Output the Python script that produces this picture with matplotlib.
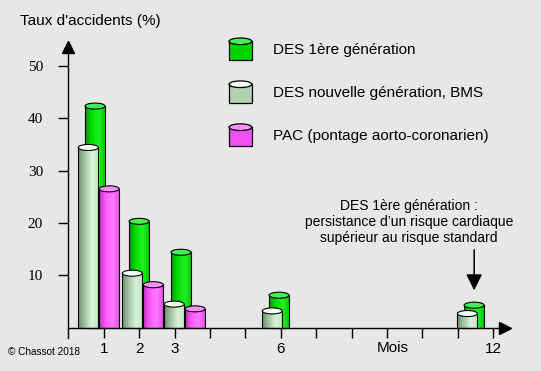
import numpy as np
import matplotlib
matplotlib.use("Agg")
import matplotlib.pyplot as plt
from matplotlib.patches import Rectangle, Ellipse, Patch
from matplotlib.colors import LinearSegmentedColormap
from matplotlib.legend_handler import HandlerBase

# ---------------- data ----------------
months = [1, 2, 3, 6, 12]
des1 = [42.3, 20.3, 14.4, 6.2, 4.3]          # DES 1ère génération
desnew = [34.4, 10.4, 4.5, 3.2, 2.7]         # DES nouvelle génération, BMS
pac = [26.5, 8.2, 3.6, None, None]           # PAC
series_labels = ["DES 1ère génération", "DES nouvelle génération, BMS",
                 "PAC (pontage aorto-coronarien)"]
xtick_pos = list(range(1, 13))
xtick_labels = ["1", "2", "3", "", "", "6", "", "", "", "", "", "12"]
ytick_vals = [10, 20, 30, 40, 50]

# ---------------- layout / style ----------------
# slot (left bar centre) of each month group on the illustration's time axis
slot_x = [0.565, 1.81, 2.99, 5.76, 11.27]
BG = "#e7e7e7"
plt.rcParams["font.family"] = ["Liberation Sans", "DejaVu Sans"]
W = 0.565      # bar width in months
EH = 1.15      # ellipse height in data units
styles = {
    "des1": dict(stops=["#009800", "#00e000", "#22f022", "#00c400"], top="#44ee55", off=0.19, z=2),
    "desnew": dict(stops=["#6f8c6f", "#a6c6a6", "#d6f4d6", "#c2e2c2"], top="#f4fff4", off=0.0, z=3),
    "pac": dict(stops=["#c030c0", "#ff5cff", "#ff78ff", "#e04ae0"], top="#ff90ff", off=0.59, z=3),
}

fig = plt.figure(figsize=(5.41, 3.71), dpi=100, facecolor=BG)
ax = fig.add_axes([61.2 / 541, 30.2 / 371, 467.5 / 541, 306.5 / 371])
ax.set_facecolor(BG)


def cylinder(x, h, st):
    cmap = LinearSegmentedColormap.from_list("c", st["stops"])
    bar = ax.bar(x, h, W, bottom=0, facecolor="none", edgecolor="black",
                 linewidth=0.8, zorder=st["z"] + 0.1)[0]
    grad = np.linspace(0, 1, 64).reshape(1, -1)
    im = ax.imshow(grad, cmap=cmap, extent=(x - W / 2, x + W / 2, 0, h),
                   aspect="auto", zorder=st["z"], interpolation="bilinear")
    im.set_clip_path(bar)
    ax.add_patch(Ellipse((x, h), W, EH, facecolor=st["top"], edgecolor="black",
                         linewidth=0.8, zorder=st["z"] + 0.2))


for key, vals in (("des1", des1), ("desnew", desnew), ("pac", pac)):
    st = styles[key]
    for sx, v in zip(slot_x, vals):
        if v is None:
            continue
        cylinder(sx + st["off"], v, st)

# ---------------- axes ----------------
ax.set_xlim(-0.2, 13.0)
ax.set_ylim(-2.5, 56)
for s in ("top", "right"):
    ax.spines[s].set_visible(False)
ax.spines["left"].set_position(("data", 0))
ax.spines["bottom"].set_position(("data", 0))
ax.spines["left"].set_bounds(-2, 53.5)
ax.spines["bottom"].set_bounds(0, 12.3)
for s in ("left", "bottom"):
    ax.spines[s].set_linewidth(1.0)
    ax.spines[s].set_zorder(5)
ax.plot([0], [53.6], marker="^", markersize=9, color="black", clip_on=False, zorder=6)
ax.plot([12.32], [0], marker=">", markersize=9, color="black", clip_on=False, zorder=6)

ax.set_yticks(ytick_vals)
ax.set_yticklabels([str(v) for v in ytick_vals], family="Liberation Serif", fontsize=11)
ax.tick_params(axis="y", direction="out", length=7.2, width=1.0, pad=11)
ax.set_xticks(xtick_pos)
ax.set_xticklabels(xtick_labels, fontsize=11)
ax.tick_params(axis="x", direction="out", length=7.2, width=1.0, pad=3)
ax.text(9.17, (371 - 348 - 30.2) / 306.5, "Mois", transform=ax.get_xaxis_transform(),
        ha="center", va="center", fontsize=11)

# ---------------- legend ----------------
class CylHandler(HandlerBase):
    def __init__(self, body, top):
        super().__init__()
        self.body, self.top = body, top

    def create_artists(self, legend, orig_handle, xdescent, ydescent, width, height, fontsize, trans):
        eh = height * 0.3
        x0, y0 = -xdescent, -ydescent
        rect = Rectangle((x0, y0), width, height - eh / 2, facecolor=self.body,
                         edgecolor="black", linewidth=0.9, transform=trans)
        ell = Ellipse((x0 + width / 2, y0 + height - eh / 2), width, eh, facecolor=self.top,
                      edgecolor="black", linewidth=0.9, transform=trans)
        return [rect, ell]


handles = [Patch(label=l) for l in series_labels]
hmap = {
    handles[0]: CylHandler("#00d400", "#44ee55"),
    handles[1]: CylHandler("#b0d0b0", "#f4fff4"),
    handles[2]: CylHandler("#f050f0", "#ff90ff"),
}
fig.legend(handles=handles, handler_map=hmap, loc="upper left",
           bbox_to_anchor=(229 / 541, 1 - 38 / 371), frameon=False, fontsize=11,
           borderpad=0, borderaxespad=0, handlelength=1.5, handleheight=1.84,
           handletextpad=1.35, labelspacing=1.37)

# ---------------- annotation ----------------
gx = slot_x[-1] + styles["des1"]["off"]
ax.text(9.62, 20.2, "DES 1ère génération :\npersistance d’un risque cardiaque\nsupérieur au risque standard",
        ha="center", va="center", fontsize=10, linespacing=1.15)
ax.annotate("", xy=(gx, des1[-1] + 2.3), xytext=(gx, 15.4),
            arrowprops=dict(arrowstyle="-|>,head_length=0.7,head_width=0.35",
                            color="black", lw=1.1, mutation_scale=14))

fig.text(20 / 541, 1 - 21 / 371, "Taux d'accidents (%)", ha="left", va="center", fontsize=11)
fig.text(8 / 541, 1 - 352 / 371, "© Chassot 2018", ha="left", va="center", fontsize=7.2)

fig.savefig("out.png", dpi=100, facecolor=BG)
